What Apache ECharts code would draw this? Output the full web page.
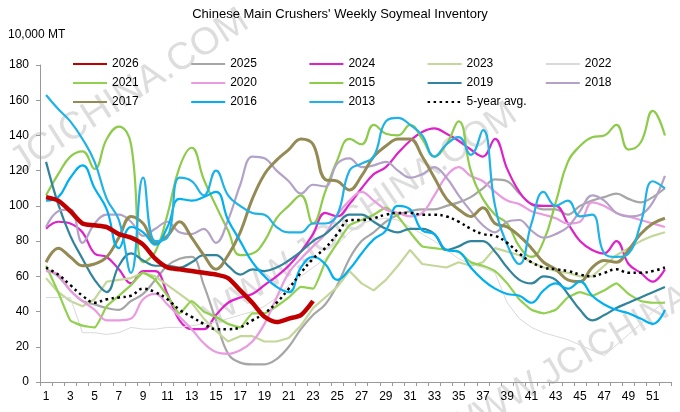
<!DOCTYPE html>
<html>
<head>
<meta charset="utf-8">
<script src="https://cdn.jsdelivr.net/npm/echarts@6/dist/echarts.min.js"></script>
<style>
html,body{margin:0;padding:0;background:#fff;}
#chart{width:680px;height:412px;}
</style>
</head>
<body>
<div id="chart"></div>
<script>
const weeks = ['1','2','3','4','5','6','7','8','9','10','11','12','13','14','15','16','17','18','19','20','21','22','23','24','25','26','27','28','29','30','31','32','33','34','35','36','37','38','39','40','41','42','43','44','45','46','47','48','49','50','51','52'];
const yTicks = [0, 20, 40, 60, 80, 100, 120, 140, 160, 180];

const s2026 = [105,103,97,90,89,88,84,82,78,70,65,64,63,62,61,59,52,45,37,34,36,38,46];
const s2025 = [64,60,52,46,44,42,41,46,50,58,66,70,71,55,35,16,11,10,10,13,20,30,38,44,55,70,80,85,91,95,97,98,98,100,102,105,110,115,114,107,101,98,98,95,100,103,105,107,104,102,105,110];
const s2024 = [87,91,90,85,73,71,64,56,63,63,50,35,30,30,38,45,48,50,55,60,66,74,84,96,94,101,110,118,122,130,137,142,144,141,137,132,128,138,121,108,101,100,100,90,80,75,73,80,67,62,57,64];
const s2023 = [59,51,46,43,47,57,58,59,62,60,55,50,45,36,29,23,26,26,23,23,25,32,42,48,54,63,56,52,58,66,75,67,66,65,68,66,68,76,74,72,68,65,63,62,60,60,66,72,76,80,83,85];
const s2022 = [48,48,48,28,28,27,28,31,30,30,31,31,32,33,34,36,38,40,43,48,55,60,65,70,78,85,90,92,93,92,88,84,80,75,70,67,65,62,45,36,31,28,26,24,21,18,15,21,27,33,40,46];
const s2021 = [66,51,35,32,31,43,49,55,62,58,49,39,46,40,37,33,31,39,39,43,48,54,53,68,79,89,92,95,99,94,85,77,76,75,74,68,66,63,56,47,41,39,41,48,51,49,52,56,50,46,45,45];
const s2020 = [63,61,52,46,41,35,35,36,47,50,44,37,30,22,17,16,18,23,33,48,62,70,77,84,95,103,108,103,98,96,94,96,106,117,122,117,114,108,103,101,97,95,93,90,91,102,100,96,94,92,90,88];
const s2015 = [106,118,128,131,121,138,145,135,68,74,95,122,133,115,100,86,72,73,80,93,100,106,90,108,126,138,135,146,141,140,146,138,128,135,148,120,104,95,90,77,71,80,102,125,134,139,140,146,132,136,154,140];
const s2019 = [125,101,83,70,58,51,66,73,69,66,66,65,68,72,72,66,61,64,63,65,69,74,80,84,90,95,95,91,87,85,87,87,84,75,77,80,80,74,65,58,56,60,58,50,41,35,38,42,45,48,51,54];
const s2018 = [88,97,98,79,90,95,95,91,83,87,91,85,84,87,79,92,112,128,127,120,114,107,112,111,124,127,122,123,125,120,116,118,122,116,106,97,89,85,91,92,86,82,84,88,97,106,103,96,94,95,102,117];
const s2017 = [68,76,71,66,67,71,82,94,90,79,83,91,82,72,64,72,85,104,118,126,132,138,135,115,114,109,117,128,134,138,138,128,116,104,98,94,99,90,88,83,76,68,64,58,57,65,69,68,75,84,90,93];
const s2016 = [103,105,116,123,110,98,76,88,85,78,88,104,103,105,108,92,80,68,60,54,51,65,71,67,58,64,73,81,86,100,98,86,84,75,74,65,58,53,50,49,45,52,56,53,57,49,44,41,39,36,33,41];
const s2013 = [163,155,148,138,125,104,92,62,116,80,82,116,114,106,120,106,100,96,95,88,85,85,90,90,95,120,124,128,148,150,146,140,128,135,139,129,143,100,78,67,90,108,100,103,94,95,73,71,73,90,114,110];
const avg5 = [65,61,55,49,45,47,48,49,53,51,47,41,37,33,30,30,31,35,39,45,53,62,70,76,84,92,92,93,95,96,96,95,95,94,91,87,84,83,79,73,68,65,64,63,61,60,62,64,62,62,63,65];

const names = ['2026','2025','2024','2023','2022','2021','2020','2015','2019','2018','2017','2016','2013','5-year avg.'];
const datas = [s2026,s2025,s2024,s2023,s2022,s2021,s2020,s2015,s2019,s2018,s2017,s2016,s2013,avg5];
const colors = ['#C00000','#A6A6A6','#DD22C9','#C4D79B','#D9D9D9','#92D050','#E99BE0','#8DCB4B','#31849B','#B3A2C7','#948A54','#00B0F0','#1FB2E6','#000000'];
const widths = [4.5,2.2,2.2,2.2,1,2.2,2.2,2.2,2.2,2.2,3,2.2,2.2,2.5];
const smooths = [0.25,0.4,0.4,0,0,0.15,0.4,0.45,0.4,0.4,0.4,0.45,0.45,0.4];

const series = names.map((n, i) => ({
  name: n,
  type: 'line',
  data: datas[i],
  symbol: 'none',
  smooth: smooths[i],
  z: n === '2026' ? 10 : (n === '5-year avg.' ? 9 : 3),
  lineStyle: {
    color: colors[i],
    width: widths[i],
    type: n === '5-year avg.' ? [2.5, 3.5] : 'solid'
  },
  itemStyle: { color: colors[i] }
}));

const legendCommon = {
  left: 72,
  itemWidth: 34,
  itemHeight: 12,
  itemGap: 51.5,
  itemStyle: { opacity: 0 },
  textStyle: { fontSize: 12, color: '#000', fontFamily: 'Liberation Sans' },
  selectedMode: false,
  padding: 0
};

const wm = 'rgba(170,170,170,0.4)';
const chart = echarts.init(document.getElementById('chart'));
chart.setOption({
  animation: false,
  backgroundColor: '#fff',
  title: {
    text: "Chinese Main Crushers' Weekly Soymeal Inventory",
    left: 'center',
    top: 3,
    textStyle: { fontSize: 13, fontWeight: 'normal', color: '#000', fontFamily: 'Liberation Sans' }
  },
  graphic: [
    { type: 'text', left: 8, top: 29, style: { text: '10,000 MT', fontSize: 12, fill: '#000', fontFamily: 'Liberation Sans' } },
    { type: 'text', x: 4, y: 150, rotation: 0.57, z: -1, silent: true,
      style: { text: 'JCICHINA.COM', fontSize: 38, fill: wm, fontFamily: 'Liberation Sans' } },
    { type: 'text', x: 198, y: 305, rotation: 0.6, z: -1, silent: true,
      style: { text: 'WWW.JCICHINA.COM', fontSize: 36, fill: wm, fontFamily: 'Liberation Sans' } },
    { type: 'text', x: 440, y: 418, rotation: 0.53, z: -1, silent: true,
      style: { text: 'WWW.JCICHINA.COM', fontSize: 36, fill: wm, fontFamily: 'Liberation Sans' } }
  ],
  legend: [
    Object.assign({ top: 58, data: names.slice(0, 5) }, legendCommon),
    Object.assign({ top: 77, data: names.slice(5, 10) }, legendCommon),
    Object.assign({ top: 96, data: names.slice(10, 14) }, legendCommon)
  ],
  grid: { left: 40, right: 9, top: 65, bottom: 30, containLabel: false, outerBoundsMode: 'none' },
  xAxis: {
    type: 'category',
    data: weeks,
    boundaryGap: true,
    axisLine: { lineStyle: { color: '#999', width: 1 } },
    axisTick: { show: true, interval: 0, alignWithLabel: false, length: 4, lineStyle: { color: '#999' } },
    axisLabel: { interval: 1, fontSize: 12, color: '#000', margin: 9, fontFamily: 'Liberation Sans' },
    splitLine: { show: false }
  },
  yAxis: {
    type: 'value',
    min: yTicks[0],
    max: yTicks[yTicks.length - 1],
    interval: yTicks[1] - yTicks[0],
    axisLine: { show: true, lineStyle: { color: '#999', width: 1 } },
    axisTick: { show: true, length: 4, lineStyle: { color: '#999' } },
    axisLabel: { fontSize: 12, color: '#000', margin: 11, fontFamily: 'Liberation Sans' },
    splitLine: { show: false }
  },
  series: series
});
</script>
</body>
</html>
